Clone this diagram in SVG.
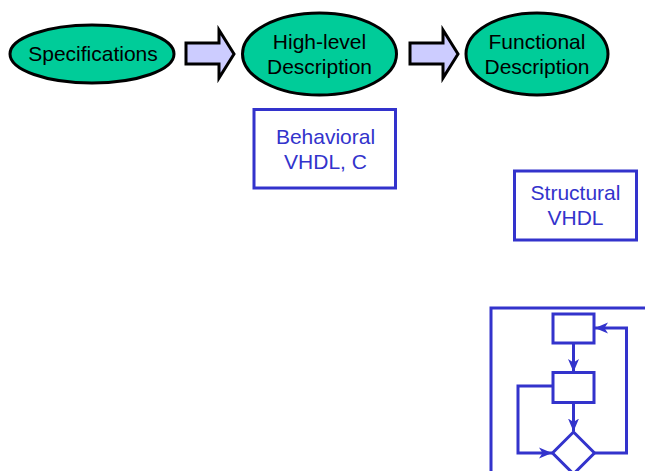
<svg xmlns="http://www.w3.org/2000/svg" width="645" height="471" viewBox="0 0 645 471">
  <style>
    .stage { fill: #00CC99; stroke: #000; stroke-width: 3; }
    .stage-text { font-family: "Liberation Sans", Arial, sans-serif; font-size: 21px; fill: #000; text-anchor: middle; }
    .step { fill: #CCCCFF; stroke: #000; stroke-width: 3; stroke-linejoin: miter; }
    .lang { fill: #fff; stroke: #3333CC; stroke-width: 3; }
    .lang-text { font-family: "Liberation Sans", Arial, sans-serif; font-size: 21px; fill: #3333CC; text-anchor: middle; }
    .flow { fill: none; stroke: #3333CC; stroke-width: 3; }
  </style>
  <defs>
    <marker id="head" markerUnits="userSpaceOnUse" markerWidth="14" markerHeight="12" refX="13" refY="6" orient="auto">
      <path d="M0,0.5 L13,6 L0,11.5 L3.5,6 z" fill="#3333CC"/>
    </marker>
  </defs>

  <rect width="645" height="471" fill="#fff"/>

  <g id="specifications">
    <ellipse class="stage" cx="92" cy="54" rx="82" ry="29"/>
    <text class="stage-text" x="93" y="61">Specifications</text>
  </g>

  <g id="high-level">
    <ellipse class="stage" cx="319.5" cy="54" rx="77" ry="41"/>
    <text class="stage-text" x="319.5" y="49">High-level</text>
    <text class="stage-text" x="319.5" y="74">Description</text>
  </g>

  <g id="functional">
    <ellipse class="stage" cx="537" cy="54" rx="71" ry="41"/>
    <text class="stage-text" x="537" y="49">Functional</text>
    <text class="stage-text" x="537" y="74">Description</text>
  </g>

  <g id="connectors">
    <polygon class="step" points="186,43 219,43 219,30 234,54 219,78 219,64 186,64"/>
    <polygon class="step" points="410,43 443,43 443,30 458,54 443,78 443,64 410,64"/>
  </g>

  <g id="behavioral">
    <rect class="lang" x="254" y="109.5" width="141.5" height="78.5"/>
    <text class="lang-text" x="325.5" y="144">Behavioral</text>
    <text class="lang-text" x="325.5" y="169">VHDL, C</text>
  </g>

  <g id="structural">
    <rect class="lang" x="514.5" y="171" width="122" height="69"/>
    <text class="lang-text" x="575.5" y="200">Structural</text>
    <text class="lang-text" x="575.5" y="225">VHDL</text>
  </g>

  <g id="flowchart">
    <rect class="flow" x="491" y="308" width="170" height="180"/>
    <rect class="flow" x="553" y="314" width="41" height="29"/>
    <rect class="flow" x="553" y="372.5" width="41" height="30"/>
    <polygon class="flow" points="573.5,432 594.5,453 573.5,474 552.5,453"/>
    <g class="flow-links">
      <line class="flow" x1="573.5" y1="343" x2="573.5" y2="372" marker-end="url(#head)"/>
      <line class="flow" x1="573.5" y1="402.5" x2="573.5" y2="431.5" marker-end="url(#head)"/>
      <polyline class="flow" points="553,386 518,386 518,453 552,453" marker-end="url(#head)"/>
      <polyline class="flow" points="594.5,453 626.5,453 626.5,328 595,328" marker-end="url(#head)"/>
    </g>
  </g>
</svg>
